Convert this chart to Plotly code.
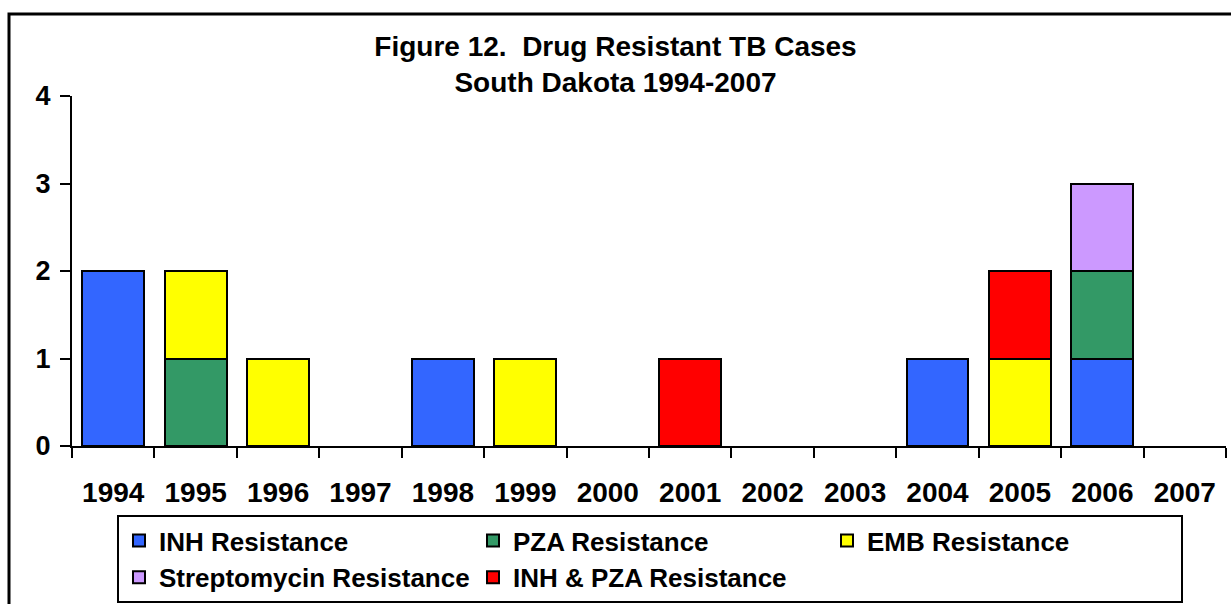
import plotly.graph_objects as go

years = ["1994", "1995", "1996", "1997", "1998", "1999", "2000",
         "2001", "2002", "2003", "2004", "2005", "2006", "2007"]

inh = [2, None, None, None, 1, None, None, None, None, None, 1, None, 1, None]
pza = [None, 1, None, None, None, None, None, None, None, None, None, None, 1, None]
emb = [None, 1, 1, None, None, 1, None, None, None, None, None, 1, None, None]
strep = [None, None, None, None, None, None, None, None, None, None, None, None, 1, None]
inh_pza = [None, None, None, None, None, None, None, 1, None, None, None, 1, None, None]

series_names = ["INH Resistance", "PZA Resistance", "EMB Resistance",
                "Streptomycin Resistance", "INH & PZA Resistance"]
series_values = [inh, pza, emb, strep, inh_pza]
series_colors = ["#3366FF", "#339966", "#FFFF00", "#CC99FF", "#FF0000"]

y_ticks = [0, 1, 2, 3, 4]

FONT = "Arial, Liberation Sans, sans-serif"

fig = go.Figure()
for name, vals, col in zip(series_names, series_values, series_colors):
    fig.add_trace(go.Bar(
        x=years, y=vals, name=name,
        marker=dict(color=col, line=dict(color="black", width=2)),
    ))

W, H = 1231, 604
ml, mr, mt, mb = 72, 5, 96, 158
pw = W - ml - mr
ph = H - mt - mb

def px_x(p):
    return (p - ml) / pw

def px_y(p):
    return (H - mb - p) / ph

fig.update_layout(
    width=W, height=H,
    barmode="stack", bargap=0.25,
    plot_bgcolor="white", paper_bgcolor="white",
    margin=dict(l=ml, r=mr, t=mt, b=mb, pad=0, autoexpand=False),
    font=dict(family=FONT, color="black", size=25, weight="bold"),
    title=dict(
        text="Figure 12.  Drug Resistant TB Cases<br>South Dakota 1994-2007",
        x=0.5, xanchor="center", xref="container",
        y=1 - 56 / H, yanchor="top", yref="container",
        font=dict(family=FONT, size=28, color="black", weight="bold"),
    ),
    xaxis=dict(
        type="category", showline=True, linecolor="black", linewidth=2,
        ticks="outside", tickson="boundaries", ticklen=10, tickwidth=2,
        tickcolor="black", showgrid=False, ticklabelstandoff=20,
        tickfont=dict(family=FONT, size=28, color="black", weight="bold"),
    ),
    yaxis=dict(
        range=[0, 4], tickvals=y_ticks, showline=True, linecolor="black",
        linewidth=2, ticks="outside", ticklen=10, tickwidth=2,
        tickcolor="black", showgrid=False, zeroline=False,
        ticklabelstandoff=4,
        tickfont=dict(family=FONT, size=27, color="black", weight="bold"),
    ),
    legend=dict(
        orientation="h", traceorder="normal",
        x=px_x(117), xanchor="left", y=px_y(515), yanchor="top",
        bordercolor="black", borderwidth=2, bgcolor="white",
        entrywidth=309, entrywidthmode="pixels",
        font=dict(family=FONT, size=26, color="black", weight="bold"),
    ),
    shapes=[dict(
        type="rect", xref="paper", yref="paper",
        x0=px_x(9), x1=px_x(1245), y0=px_y(14), y1=px_y(640),
        line=dict(color="black", width=3), fillcolor="rgba(0,0,0,0)",
        layer="below",
    )],
)

fig.write_html(
    "out.html",
    config={"displayModeBar": False},
    post_script="document.body.style.margin='0';document.body.style.overflow='hidden';",
)
